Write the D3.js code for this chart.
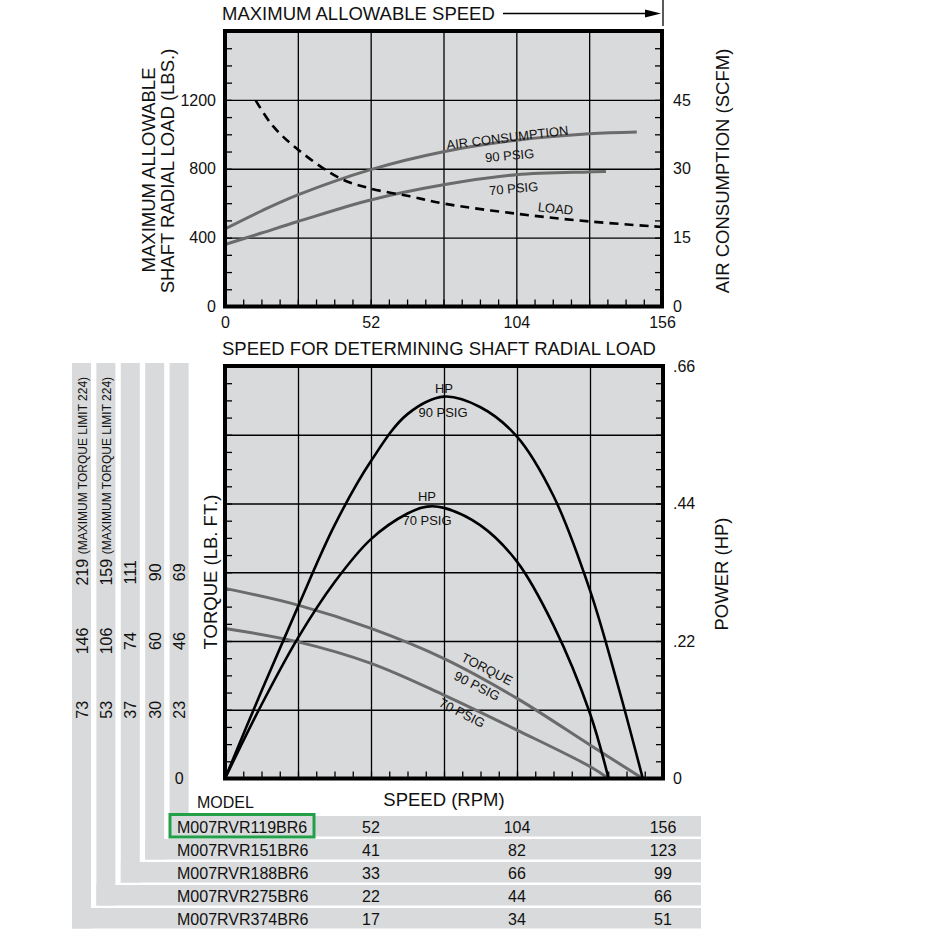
<!DOCTYPE html>
<html>
<head>
<meta charset="utf-8">
<script src="https://cdn.jsdelivr.net/npm/d3@7"></script>
<style>
  body { margin: 0; background: #fff; }
  svg text { font-family: "Liberation Sans", Arial, Helvetica, sans-serif; fill: #111; }
</style>
</head>
<body>
<svg id="chart" width="932" height="944"></svg>
<script>
// ---- top chart data (speed in RPM of model M007RVR119BR6) ----
const air90Speed = [0, 13, 26, 52, 78, 104, 130, 147];
const air90Scfm  = [16.9, 20.8, 24.3, 29.8, 33.7, 36.2, 37.6, 38.0];
const air70Speed = [0, 13, 26, 52, 78, 104, 130, 136];
const air70Scfm  = [13.5, 16.0, 18.5, 23.2, 26.5, 28.7, 29.3, 29.4];
const loadSpeed  = [11, 17, 26, 41, 52, 66, 78, 104, 130, 156];
const loadLbs    = [1196, 1050, 912, 745, 685, 640, 598, 539, 494, 462];

// ---- bottom chart data ----
const torque90Speed = [0, 26, 52, 78, 104, 130, 148.8];
const torque90      = [63.6, 58.0, 50.2, 40.1, 26.8, 11.2, 0];
const torque70Speed = [0, 26, 52, 78, 104, 130, 136.6];
const torque70      = [50.2, 45.7, 38.5, 27.9, 16.2, 4.0, 0];
const hp90Speed = [0, 13, 26, 39, 52, 65, 78, 91, 104, 117, 130, 140, 148.8];
const hp90      = [0, 0.14, 0.275, 0.405, 0.508, 0.583, 0.611, 0.594, 0.547, 0.452, 0.301, 0.148, 0];
const hp70Speed = [0, 13, 26, 39, 52, 65, 72, 78, 91, 104, 117, 130, 136.6];
const hp70      = [0, 0.118, 0.225, 0.314, 0.383, 0.424, 0.435, 0.433, 0.405, 0.347, 0.245, 0.104, 0];

// ---- model table ----
const models       = ["M007RVR119BR6", "M007RVR151BR6", "M007RVR188BR6", "M007RVR275BR6", "M007RVR374BR6"];
const modelSpeeds  = [[52, 104, 156], [41, 82, 123], [33, 66, 99], [22, 44, 66], [17, 34, 51]];
const modelTorques = [[23, 46, 69], [30, 60, 90], [37, 74, 111], [53, 106, 159], [73, 146, 219]];
const torqueLimits = [null, null, null, 224, 224];

const loadTicks = [0, 400, 800, 1200];
const airTicks  = [0, 15, 30, 45];
const speedTicks = [0, 52, 104, 156];
const hpTicks = [0, 0.22, 0.44, 0.66];

const GRAY = '#d9dadb';
const CURVE = '#6b6b6b';
const svg = d3.select('#chart');

function styleText(sel, size) {
  sel.selectAll('text').attr('font-family', null).attr('font-size', size).attr('fill', '#111');
}

function panel(box, xs, yl, yr, xMinor, yMinor, xGrid, yGrid) {
  const g = svg.append('g');
  g.append('rect').attr('x', box.l).attr('y', box.t)
    .attr('width', box.r - box.l).attr('height', box.b - box.t).attr('fill', GRAY);
  // grid
  g.append('g').attr('transform', `translate(0,${box.b})`)
    .call(d3.axisBottom(xs).tickValues(xGrid).tickSize(-(box.b - box.t)).tickFormat(''))
    .call(a => a.select('.domain').remove())
    .selectAll('line').attr('stroke', '#000').attr('stroke-width', 1.3);
  g.append('g').attr('transform', `translate(${box.l},0)`)
    .call(d3.axisLeft(yl).tickValues(yGrid).tickSize(-(box.r - box.l)).tickFormat(''))
    .call(a => a.select('.domain').remove())
    .selectAll('line').attr('stroke', '#000').attr('stroke-width', 1.3);
  // inside minor ticks
  const minor = [
    [d3.axisLeft(yl).tickValues(yMinor), `translate(${box.l},0)`],
    [d3.axisRight(yl).tickValues(yMinor), `translate(${box.r},0)`],
    [d3.axisBottom(xs).tickValues(xMinor), `translate(0,${box.b})`]
  ];
  minor.forEach(([ax, tr]) => {
    g.append('g').attr('transform', tr)
      .call(ax.tickSize(-7).tickFormat(''))
      .call(a => a.select('.domain').remove())
      .selectAll('line').attr('stroke', '#000').attr('stroke-width', 1.3);
  });
  return g;
}

function frame(box) {
  svg.append('rect').attr('x', box.l).attr('y', box.t)
    .attr('width', box.r - box.l).attr('height', box.b - box.t)
    .attr('fill', 'none').attr('stroke', '#000').attr('stroke-width', 4);
}

function rotLabel(g, x, y, angle, txt, size, anchor) {
  g.append('text').attr('transform', `translate(${x},${y}) rotate(${angle})`)
    .attr('text-anchor', anchor || 'middle').attr('font-size', size).text(txt);
}

// ================= TOP CHART =================
const topBox = { l: 225, r: 662, t: 31, b: 306.5 };
const xTop = d3.scaleLinear().domain([0, 156]).range([topBox.l, topBox.r]);
const yLoad = d3.scaleLinear().domain([0, 1600]).range([topBox.b, topBox.t]);
const yAir = d3.scaleLinear().domain([0, 60]).range([topBox.b, topBox.t]);

const gTop = panel(topBox, xTop, yLoad, yAir,
  d3.range(0, 156.01, 6.5), d3.range(0, 1601, 100),
  d3.range(26, 156, 26), d3.range(400, 1600, 400));

const lineAir = d3.line().x(d => xTop(d[0])).y(d => yAir(d[1])).curve(d3.curveCatmullRom.alpha(0.5));
const lineLoad = d3.line().x(d => xTop(d[0])).y(d => yLoad(d[1])).curve(d3.curveCatmullRom.alpha(0.5));

gTop.append('path').attr('d', lineAir(d3.zip(air90Speed, air90Scfm)))
  .attr('fill', 'none').attr('stroke', CURVE).attr('stroke-width', 3);
gTop.append('path').attr('d', lineAir(d3.zip(air70Speed, air70Scfm)))
  .attr('fill', 'none').attr('stroke', CURVE).attr('stroke-width', 3);
gTop.append('path').attr('d', lineLoad(d3.zip(loadSpeed, loadLbs)))
  .attr('fill', 'none').attr('stroke', '#000').attr('stroke-width', 2.6)
  .attr('stroke-dasharray', '9,6');

rotLabel(gTop, 508, 142, -7, 'AIR CONSUMPTION', 13);
rotLabel(gTop, 510, 160, -5, '90 PSIG', 13);
rotLabel(gTop, 514, 193, -5, '70 PSIG', 13);
rotLabel(gTop, 555, 213, 6, 'LOAD', 13);

frame(topBox);

// axis labels
svg.append('g').attr('transform', `translate(${topBox.l},0)`)
  .call(d3.axisLeft(yLoad).tickValues(loadTicks).tickSize(0).tickPadding(9).tickFormat(d3.format('d')))
  .call(a => a.select('.domain').remove()).call(a => styleText(a, 16));
svg.append('g').attr('transform', `translate(${topBox.r},0)`)
  .call(d3.axisRight(yAir).tickValues(airTicks).tickSize(0).tickPadding(11))
  .call(a => a.select('.domain').remove()).call(a => styleText(a, 16));
svg.append('g').attr('transform', `translate(0,${topBox.b})`)
  .call(d3.axisBottom(xTop).tickValues(speedTicks).tickSize(0).tickPadding(10))
  .call(a => a.select('.domain').remove()).call(a => styleText(a, 16));

rotLabel(svg, 155, 170, -90, 'MAXIMUM ALLOWABLE', 18.5);
rotLabel(svg, 173.5, 171, -90, 'SHAFT RADIAL LOAD (LBS.)', 18.5);
rotLabel(svg, 729, 171, -90, 'AIR CONSUMPTION (SCFM)', 18.5);

// top title with arrow
svg.append('text').attr('x', 222).attr('y', 20).attr('font-size', 18.5).text('MAXIMUM ALLOWABLE SPEED');
svg.append('line').attr('x1', 503).attr('x2', 648).attr('y1', 13.5).attr('y2', 13.5)
  .attr('stroke', '#000').attr('stroke-width', 1.3);
svg.append('path').attr('d', d3.line()([[645, 9.5], [661, 13.5], [645, 17.5]]) + 'Z').attr('fill', '#000');
svg.append('line').attr('x1', 663).attr('x2', 663).attr('y1', 0).attr('y2', 26)
  .attr('stroke', '#000').attr('stroke-width', 1.3);

// ================= BOTTOM CHART =================
svg.append('text').attr('x', 222).attr('y', 355).attr('font-size', 18.5)
  .text('SPEED FOR DETERMINING SHAFT RADIAL LOAD');

// model table bands (drawn first, behind)
const colLeft0 = 169.6, colStep = 24.4, colW = 19, colTop = 363;
const rowTop0 = 816, rowStep = 23, rowH = 20.5, bandRight = 701;
const gTable = svg.append('g');
const rows = gTable.selectAll('g.model').data(models).join('g').attr('class', 'model');
rows.append('rect')
  .attr('x', (d, i) => colLeft0 - colStep * i).attr('y', colTop)
  .attr('width', colW).attr('height', (d, i) => rowTop0 + rowStep * i + rowH - colTop)
  .attr('fill', GRAY);
rows.append('rect')
  .attr('x', (d, i) => colLeft0 - colStep * i).attr('y', (d, i) => rowTop0 + rowStep * i)
  .attr('width', (d, i) => bandRight - (colLeft0 - colStep * i)).attr('height', rowH)
  .attr('fill', GRAY);

const botBox = { l: 225, r: 663, t: 366, b: 778.5 };
const xBot = d3.scaleLinear().domain([0, 156]).range([botBox.l, botBox.r]);
const yTorque = d3.scaleLinear().domain([0, 138]).range([botBox.b, botBox.t]);
const yHp = d3.scaleLinear().domain([0, 0.66]).range([botBox.b, botBox.t]);

const gBot = panel(botBox, xBot, yTorque, yHp,
  d3.range(0, 156.01, 6.5), d3.range(0, 138.01, 5.75),
  d3.range(26, 156, 26), d3.range(23, 138, 23));

const lineT = d3.line().x(d => xBot(d[0])).y(d => yTorque(d[1])).curve(d3.curveCatmullRom.alpha(0.5));
const lineH = d3.line().x(d => xBot(d[0])).y(d => yHp(d[1])).curve(d3.curveCatmullRom.alpha(0.5));

gBot.append('path').attr('d', lineT(d3.zip(torque90Speed, torque90)))
  .attr('fill', 'none').attr('stroke', CURVE).attr('stroke-width', 3);
gBot.append('path').attr('d', lineT(d3.zip(torque70Speed, torque70)))
  .attr('fill', 'none').attr('stroke', CURVE).attr('stroke-width', 3);
gBot.append('path').attr('d', lineH(d3.zip(hp90Speed, hp90)))
  .attr('fill', 'none').attr('stroke', '#000').attr('stroke-width', 2.6);
gBot.append('path').attr('d', lineH(d3.zip(hp70Speed, hp70)))
  .attr('fill', 'none').attr('stroke', '#000').attr('stroke-width', 2.6);

gBot.append('text').attr('x', 444).attr('y', 393).attr('text-anchor', 'middle').attr('font-size', 13).text('HP');
gBot.append('text').attr('x', 443).attr('y', 417).attr('text-anchor', 'middle').attr('font-size', 13).text('90 PSIG');
gBot.append('text').attr('x', 427).attr('y', 501).attr('text-anchor', 'middle').attr('font-size', 13).text('HP');
gBot.append('text').attr('x', 427).attr('y', 525).attr('text-anchor', 'middle').attr('font-size', 13).text('70 PSIG');
rotLabel(gBot, 485, 673, 27, 'TORQUE', 13);
rotLabel(gBot, 475, 690, 27, '90 PSIG', 13);
rotLabel(gBot, 460, 717, 27, '70 PSIG', 13);

frame(botBox);

svg.append('g').attr('transform', `translate(${botBox.r},0)`)
  .call(d3.axisRight(yHp).tickValues(hpTicks).tickSize(0).tickPadding(10)
    .tickFormat(d => d === 0 ? '0' : d3.format('.2f')(d).replace(/^0/, '')))
  .call(a => a.select('.domain').remove()).call(a => styleText(a, 16));

rotLabel(svg, 217, 572, -90, 'TORQUE (LB. FT.)', 18.5);
rotLabel(svg, 728, 574, -90, 'POWER (HP)', 18.5);
svg.append('text').attr('x', 444).attr('y', 806).attr('text-anchor', 'middle').attr('font-size', 18.5).text('SPEED (RPM)');
svg.append('text').attr('x', 197).attr('y', 808).attr('font-size', 16).text('MODEL');

// table texts
rows.append('text').attr('x', 177).attr('y', (d, i) => rowTop0 + rowStep * i + 16.5)
  .attr('font-size', 16).text(d => d);
rows.each(function (d, i) {
  const g = d3.select(this);
  modelSpeeds[i].forEach((v, k) => {
    g.append('text').attr('x', xBot(modelSpeeds[0][k])).attr('y', rowTop0 + rowStep * i + 16.5)
      .attr('text-anchor', 'middle').attr('font-size', 16).text(v);
  });
  const cx = colLeft0 - colStep * i + colW / 2 + 6;
  modelTorques[i].forEach((v, k) => {
    rotLabel(g, cx, yTorque(modelTorques[0][k]), -90, v, 16);
  });
  if (torqueLimits[i] != null) {
    rotLabel(g, cx - 0.5, yTorque(modelTorques[0][2]) - 18, -90,
      `(MAXIMUM TORQUE LIMIT ${torqueLimits[i]})`, 12, 'start');
  }
});
svg.append('text').attr('x', colLeft0 + colW / 2).attr('y', yTorque(0) + 5.5)
  .attr('text-anchor', 'middle').attr('font-size', 16).text('0');

// highlighted model
svg.append('rect').attr('x', 170).attr('y', 814.5).attr('width', 144).attr('height', 22.5)
  .attr('fill', 'none').attr('stroke', '#22a048').attr('stroke-width', 3);
</script>
</body>
</html>
